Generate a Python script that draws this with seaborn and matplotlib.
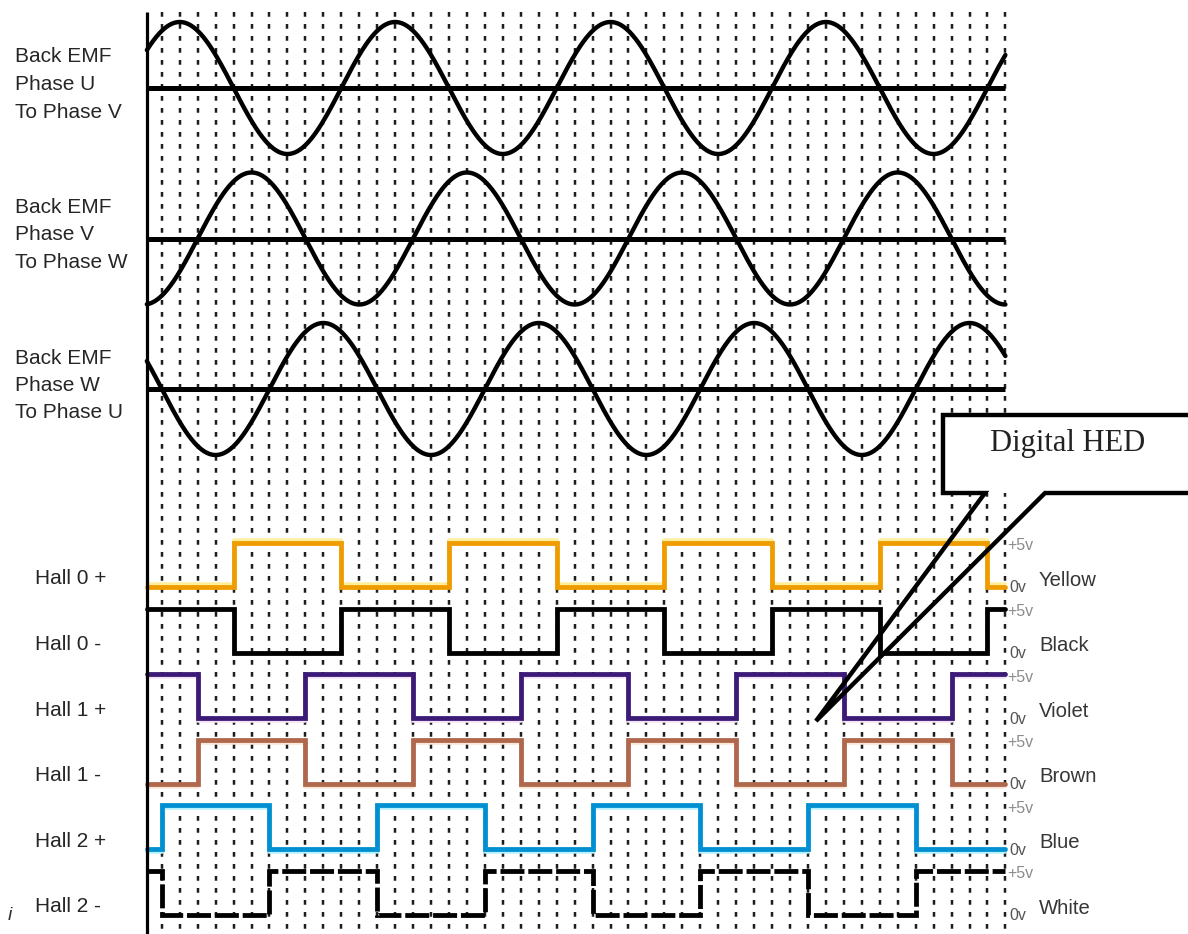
import numpy as np
import pandas as pd
import matplotlib
matplotlib.use("Agg")
import matplotlib.pyplot as plt
import matplotlib.transforms as mtransforms
import seaborn as sns

# ------------------------------------------------------------------ data
emf_labels = [["Back EMF", "Phase U", "To Phase V"],
              ["Back EMF", "Phase V", "To Phase W"],
              ["Back EMF", "Phase W", "To Phase U"]]
emf_peak_deg = [60, 180, 300]          # electrical angle of first positive peak
angle_start, angle_end = 5, 1440       # electrical degrees shown (4 cycles)
grid_angles = list(range(30, 1441, 30))

hall_labels = ["Hall 0 +", "Hall 0 -", "Hall 1 +", "Hall 1 -", "Hall 2 +", "Hall 2 -"]
wire_colours = ["Yellow", "Black", "Violet", "Brown", "Blue", "White"]
hall_start_volts = [0, 5, 5, 0, 0, 5]
hall0_edges = [150, 330, 510, 690, 870, 1050, 1230, 1410]
hall1_edges = [90, 270, 450, 630, 810, 990, 1170, 1350]
hall2_edges = [30, 210, 390, 570, 750, 930, 1110, 1290]
hall_edges = [hall0_edges, hall0_edges, hall1_edges, hall1_edges, hall2_edges, hall2_edges]
level_labels = ["+5v", "0v"]
callout_text = "Digital HED"

# ------------------------------------------------------------------ layout / style
W, H = 1188, 934
PX0, PX_PER_DEG = 143.85, 0.5983
PT = 0.72  # points per pixel at 100 dpi


def deg(px):
    return (px - PX0) / PX_PER_DEG


emf_center_y = [88, 238.5, 389]
emf_amp_px = 66
hall_high_y = [543 + 65.6 * k for k in range(6)]
hall_swing_px = 44
hall_line_colours = ["#EE9C00", "#000000", "#3B1A78", "#AF684C", "#0090D2", "#000000"]
hall_halo_colours = ["#FFEF9C", None, "#F4E2F7", "#FAE6D6", "#B4F2FF", None]
hall_halo_shift = [3, 0, -3, -3, -3, 0]
hall_styles = ["-", "-", "-", "-", "-", (0, (5.0, 0.8))]

sns.set_theme(style="white")
plt.rcParams["font.family"] = ["Liberation Sans", "DejaVu Sans"]

fig = plt.figure(figsize=(W / 100, H / 100), dpi=100)
ax = fig.add_axes([0, 0, 1, 1])
ax.set_xlim(deg(0), deg(W))
ax.set_ylim(H, 0)
ax.axis("off")

# dotted grid
ax.vlines(grid_angles, 12, H, colors="#1e1e1e", linewidth=2.5 * PT,
          linestyles=[(0, (1.9, 2.9))], zorder=1)
# left axis line
ax.vlines([angle_start], 12, H, colors="black", linewidth=3.2 * PT, zorder=4)

# back-EMF sine traces
theta = np.arange(angle_start, angle_end + 0.5, 1.0)
for i, (peak, yc) in enumerate(zip(emf_peak_deg, emf_center_y)):
    df = pd.DataFrame({"angle": theta,
                       "emf": np.cos(np.radians(theta - peak))})
    df["y"] = yc - emf_amp_px * df["emf"]
    ax.hlines(yc, angle_start, angle_end, colors="black", linewidth=5 * PT, zorder=3)
    sns.lineplot(data=df, x="angle", y="y", ax=ax, color="black",
                 linewidth=4.4 * PT, sort=False, estimator=None, zorder=3)
    for j, line in enumerate(emf_labels[i]):
        ax.text(deg(15), yc - 31 + 27.5 * j, line, fontsize=15, color="#262626",
                ha="left", va="center")


# Hall step traces
def step_points(start_v, edges):
    xs, vs = [angle_start], [start_v]
    cur = start_v
    for e in edges:
        xs.append(e); vs.append(cur)
        cur = 5 - cur
        xs.append(e); vs.append(cur)
    xs.append(angle_end); vs.append(cur)
    return xs, vs


for k in range(6):
    xs, vs = step_points(hall_start_volts[k], hall_edges[k])
    low_y = hall_high_y[k] + hall_swing_px
    df = pd.DataFrame({"angle": xs, "volts": vs})
    df["y"] = low_y - df["volts"] / 5.0 * hall_swing_px
    if hall_halo_colours[k]:
        sns.lineplot(data=df, x="angle", y="y", ax=ax, color=hall_halo_colours[k],
                     linewidth=3.5 * PT, sort=False, estimator=None, zorder=2.5)
        halo = ax.lines[-1]
        halo.set_transform(ax.transData + mtransforms.ScaledTranslation(
            0, hall_halo_shift[k] / 100, fig.dpi_scale_trans))
    sns.lineplot(data=df, x="angle", y="y", ax=ax, color=hall_line_colours[k],
                 linewidth=4.8 * PT, sort=False, estimator=None, zorder=3,
                 linestyle=hall_styles[k])
    ln = ax.lines[-1]
    ln.set_solid_joinstyle("miter")
    ln.set_dash_joinstyle("miter")
    # labels
    ax.text(deg(35), low_y - 8, hall_labels[k], fontsize=15, color="#262626",
            ha="left", va="center")
    ax.text(deg(1007), hall_high_y[k] + 3, level_labels[0], fontsize=11.5,
            color="#8c8c8c", ha="left", va="center")
    ax.text(deg(1009), low_y + 1, level_labels[1], fontsize=11.5,
            color="#555555", ha="left", va="center")
    ax.text(deg(1039), low_y - 7, wire_colours[k], fontsize=14.6,
            color="#363636", ha="left", va="center")

# callout "Digital HED"
bx0, by0, by1, bx1 = deg(943), 415, 493, deg(1215)
ax.fill([bx0, bx1, bx1, bx0], [by0, by0, by1, by1], color="white", zorder=5, lw=0)
cw = 4.4 * PT
ax.plot([bx1, bx0, bx0, deg(985), deg(816), deg(1045), bx1],
        [by0, by0, by1, by1, 721, by1, by1], color="black", lw=cw, zorder=6,
        solid_joinstyle="miter")
ax.text(deg(990), 444, callout_text, fontsize=22, color="#222222",
        family=["Liberation Serif", "DejaVu Serif"], ha="left", va="center", zorder=7)

# stray mark at bottom left of the source
ax.text(deg(8), 916, "i", fontsize=14, style="italic", color="#333333",
        ha="left", va="center")

fig.savefig("out.png", dpi=100)
